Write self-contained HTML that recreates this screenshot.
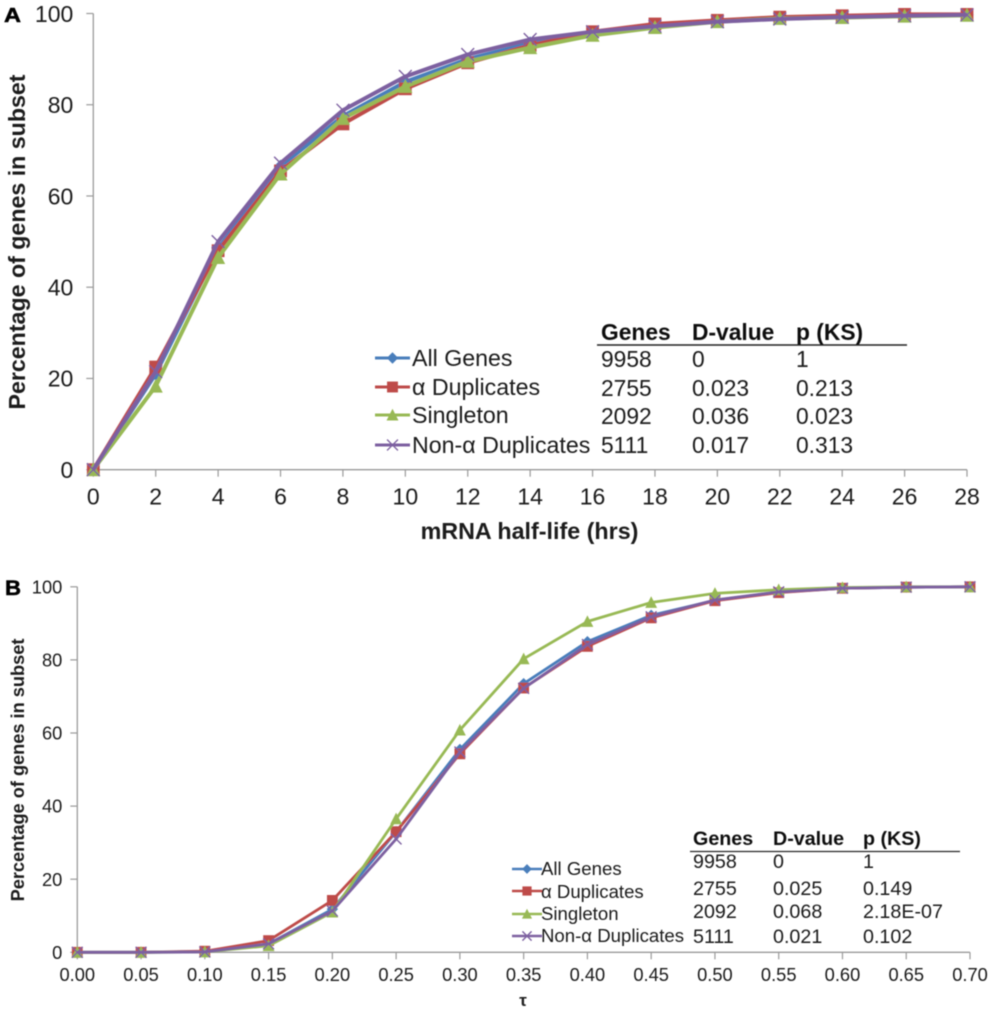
<!DOCTYPE html>
<html>
<head>
<meta charset="utf-8">
<title>Cumulative distribution charts</title>
<style>
html,body{margin:0;padding:0;background:#fff;}
svg{display:block;}
text{font-family:"Liberation Sans",sans-serif;fill:#1a1a1a;}
.a-tbl{font-size:22.8px;}
.a-leg{font-size:23.2px;}
.b-tbl{font-size:19.7px;}
.b-leg{font-size:18.6px;}
.h{font-weight:bold;fill:#111;}
</style>
</head>
<body>
<svg id="chart" xmlns="http://www.w3.org/2000/svg" width="992" height="1011" viewBox="0 0 992 1011">
<defs><filter id="soft" x="-2%" y="-2%" width="104%" height="104%"><feGaussianBlur stdDeviation="0.45"/></filter></defs>
<rect x="0" y="0" width="992" height="1011" fill="#fff"/>
<g id="root" filter="url(#soft)">
<text x="4" y="22" font-size="20" font-weight="bold" textLength="17" lengthAdjust="spacingAndGlyphs" stroke="#000" stroke-width="0.5" style="fill:#000">A</text>
<text x="5" y="595" font-size="21" font-weight="bold" textLength="16" lengthAdjust="spacingAndGlyphs" stroke="#000" stroke-width="0.5" style="fill:#000">B</text>
<text transform="translate(25,242) rotate(-90)" text-anchor="middle" font-size="23.2" font-weight="bold">Percentage of genes in subset</text>
<text transform="translate(24,770) rotate(-90)" text-anchor="middle" font-size="18.2" font-weight="bold">Percentage of genes in subset</text>
<text x="529.5" y="539" text-anchor="middle" font-size="23.3" font-weight="bold">mRNA half-life (hrs)</text>
<text x="523" y="1006" text-anchor="middle" font-size="17" font-weight="bold">τ</text>

<g class="a-leg">
<text x="412" y="366">All Genes</text>
<text x="412" y="395">α Duplicates</text>
<text x="412" y="423">Singleton</text>
<text x="412" y="453">Non-α Duplicates</text>
</g>
<g class="a-tbl">
<text class="h" x="601" y="340">Genes</text>
<text class="h" x="692" y="340">D-value</text>
<text class="h" x="796" y="340">p (KS)</text>
<line x1="597" y1="345" x2="907" y2="345" stroke="#222" stroke-width="1.4"/>
<text x="601" y="367">9958</text><text x="692" y="367">0</text><text x="796" y="367">1</text>
<text x="601" y="396">2755</text><text x="692" y="396">0.023</text><text x="796" y="396">0.213</text>
<text x="601" y="424">2092</text><text x="692" y="424">0.036</text><text x="796" y="424">0.023</text>
<text x="601" y="453">5111</text><text x="692" y="453">0.017</text><text x="796" y="453">0.313</text>
</g>

<g class="b-leg">
<text x="541" y="875">All Genes</text>
<text x="541" y="898">α Duplicates</text>
<text x="541" y="920">Singleton</text>
<text x="541" y="942">Non-α Duplicates</text>
</g>
<g class="b-tbl">
<text class="h" x="693" y="845">Genes</text>
<text class="h" x="773" y="845">D-value</text>
<text class="h" x="863" y="845">p (KS)</text>
<line x1="690" y1="851.5" x2="960" y2="851.5" stroke="#222" stroke-width="1.2"/>
<text x="693" y="868">9958</text><text x="773" y="868">0</text><text x="863" y="868">1</text>
<text x="693" y="895">2755</text><text x="773" y="895">0.025</text><text x="863" y="895">0.149</text>
<text x="693" y="918">2092</text><text x="773" y="918">0.068</text><text x="863" y="918">2.18E-07</text>
<text x="693" y="943">5111</text><text x="773" y="943">0.021</text><text x="863" y="943">0.102</text>
</g>
</g>
</svg>
<script>
// Panel A data
const xLabelsA = ['0','2','4','6','8','10','12','14','16','18','20','22','24','26','28'];
const allGenesA = [0,21,48.5,66.5,77.5,85,90,93.5,95.8,97.3,98.4,99,99.3,99.6,99.7];
const alphaDupA = [0,22.5,48,65.5,75.8,83.5,89.2,93,96,97.7,98.5,99.2,99.5,99.8,99.8];
const singletonA = [0,18.3,46.5,64.8,77,84,89.5,92.5,95.2,96.9,98.2,98.9,99.1,99.4,99.6];
const nonAlphaA = [0,21.5,50,67.2,78.8,86.2,91,94.3,96,97.2,98.2,98.8,99.2,99.5,99.7];
// Panel B data
const xLabelsB = ['0.00','0.05','0.10','0.15','0.20','0.25','0.30','0.35','0.40','0.45','0.50','0.55','0.60','0.65','0.70'];
const allGenesB = [0,0,0.2,2.3,11.8,33,55.5,73.5,85,92.2,96.3,98.5,99.6,99.9,100];
const alphaDupB = [0,0,0.3,3.2,14.2,33,54.3,72.3,83.7,91.5,96.2,98.4,99.6,99.9,100];
const singletonB = [0,0,0.1,1.8,11,36.5,60.8,80.3,90.5,95.7,98.2,99.2,99.8,100,100];
const nonAlphaB = [0,0,0.1,2.3,11.3,31,54.8,72.2,84.2,91.8,96.4,98.6,99.6,99.9,100];
const yLabels = ['0','20','40','60','80','100'];
const yValues = [0,20,40,60,80,100];
const seriesNames = ['all-genes','alpha-duplicates','singleton','non-alpha-duplicates'];
const seriesColors = ['#4a7ebb','#be4b48','#98b954','#7d60a0'];
const seriesShapes = ['diamond','square','triangle','cross'];

const NS = 'http://www.w3.org/2000/svg';
const root = document.getElementById('root');

function make(tag, parent, name) {
  const el = document.createElementNS(NS, tag);
  
  
  parent.appendChild(el);
  return el;
}

function drawMarker(parent, shape, cx, cy, s, color, name) {
  let el;
  if (shape === 'cross') {
    el = make('path', parent, name);
    el.setAttribute('d', `M${cx-s} ${cy-s}L${cx+s} ${cy+s}M${cx-s} ${cy+s}L${cx+s} ${cy-s}`);
    el.setAttribute('stroke', color);
    el.setAttribute('stroke-width', 1.4);
    el.setAttribute('fill', 'none');
    return;
  }
  el = make('path', parent, name);
  let d;
  if (shape === 'diamond') d = `M${cx} ${cy-s*1.05}L${cx+s*1.05} ${cy}L${cx} ${cy+s*1.05}L${cx-s*1.05} ${cy}Z`;
  if (shape === 'square') d = `M${cx-s} ${cy-s}H${cx+s}V${cy+s}H${cx-s}Z`;
  if (shape === 'triangle') d = `M${cx} ${cy-s*1.15}L${cx+s*1.1} ${cy+s}H${cx-s*1.1}Z`;
  el.setAttribute('d', d);
  el.setAttribute('fill', color);
}

function drawPanel(opt) {
  const sx = i => opt.x0 + i * (opt.x1 - opt.x0) / (opt.xLabels.length - 1);
  const sy = v => opt.y0 + (opt.y100 - opt.y0) * v / 100;
  const ax = make('g', root, opt.id + '-axes');

  const yAxis = make('line', ax, opt.id + '-y-axis');
  yAxis.setAttribute('x1', opt.x0);
  yAxis.setAttribute('x2', opt.x0);
  yAxis.setAttribute('y1', sy(100));
  yAxis.setAttribute('y2', sy(0));
  yAxis.setAttribute('stroke', '#9a9a9a');
  yAxis.setAttribute('stroke-width', 1.3);

  const xAxis = make('line', ax, opt.id + '-x-axis');
  xAxis.setAttribute('x1', opt.x0);
  xAxis.setAttribute('x2', opt.x1);
  xAxis.setAttribute('y1', sy(0));
  xAxis.setAttribute('y2', sy(0));
  xAxis.setAttribute('stroke', '#9a9a9a');
  xAxis.setAttribute('stroke-width', 1.3);

  yValues.forEach((v, i) => {
    const t = make('line', ax, opt.id + '-y-tick');
    t.setAttribute('x1', opt.x0 - 7);
    t.setAttribute('x2', opt.x0);
    t.setAttribute('y1', sy(v));
    t.setAttribute('y2', sy(v));
    t.setAttribute('stroke', '#9a9a9a');
    t.setAttribute('stroke-width', 1.2);
    const l = make('text', ax, opt.id + '-y-tick-label');
    l.setAttribute('x', opt.x0 - opt.yGap);
    l.setAttribute('y', sy(v) + opt.yFont * 0.36);
    l.setAttribute('text-anchor', 'end');
    l.setAttribute('font-size', opt.yFont);
    l.textContent = yLabels[i];
  });

  opt.xLabels.forEach((lab, i) => {
    const t = make('line', ax, opt.id + '-x-tick');
    t.setAttribute('x1', sx(i));
    t.setAttribute('x2', sx(i));
    t.setAttribute('y1', sy(0));
    t.setAttribute('y2', sy(0) + 7);
    t.setAttribute('stroke', '#9a9a9a');
    t.setAttribute('stroke-width', 1.2);
    const l = make('text', ax, opt.id + '-x-tick-label');
    l.setAttribute('x', sx(i));
    l.setAttribute('y', sy(0) + opt.xGap);
    l.setAttribute('text-anchor', 'middle');
    l.setAttribute('font-size', opt.xFont);
    l.textContent = lab;
  });

  opt.series.forEach((vals, k) => {
    const g = make('g', root, opt.id + '-series-' + seriesNames[k]);
    const line = make('polyline', g, opt.id + '-line-' + seriesNames[k]);
    line.setAttribute('points', vals.map((v, i) => sx(i) + ',' + sy(v)).join(' '));
    line.setAttribute('fill', 'none');
    line.setAttribute('stroke', seriesColors[k]);
    line.setAttribute('stroke-width', opt.lw);
    line.setAttribute('stroke-linejoin', 'round');
    vals.forEach((v, i) => {
      drawMarker(g, seriesShapes[k], sx(i), sy(v), opt.ms, seriesColors[k], opt.id + '-point-' + seriesNames[k]);
    });
  });

  opt.legendY.forEach((y, k) => {
    const g = make('g', root, opt.id + '-legend-key-' + seriesNames[k]);
    const line = make('line', g, opt.id + '-legend-line-' + seriesNames[k]);
    line.setAttribute('x1', opt.legX0);
    line.setAttribute('x2', opt.legX1);
    line.setAttribute('y1', y);
    line.setAttribute('y2', y);
    line.setAttribute('stroke', seriesColors[k]);
    line.setAttribute('stroke-width', opt.legLw);
    drawMarker(g, seriesShapes[k], (opt.legX0 + opt.legX1) / 2, y, opt.ms * 0.85, seriesColors[k], opt.id + '-legend-marker-' + seriesNames[k]);
  });
}

drawPanel({
  id: 'panel-a', x0: 93.3, x1: 967, y0: 469.7, y100: 13.5,
  xLabels: xLabelsA, xFont: 23, yFont: 23, yGap: 20, xGap: 35,
  lw: 4, legLw: 3, ms: 6.4,
  series: [allGenesA, alphaDupA, singletonA, nonAlphaA],
  legendY: [358, 387, 415, 445], legX0: 375, legX1: 410
});
drawPanel({
  id: 'panel-b', x0: 77.3, x1: 970, y0: 952.3, y100: 586.8,
  xLabels: xLabelsB, xFont: 18.3, yFont: 18.3, yGap: 15, xGap: 28.7,
  lw: 2.8, legLw: 2.4, ms: 5.4,
  series: [allGenesB, alphaDupB, singletonB, nonAlphaB],
  legendY: [869, 891, 914, 936], legX0: 512, legX1: 542
});
</script>
</body>
</html>
